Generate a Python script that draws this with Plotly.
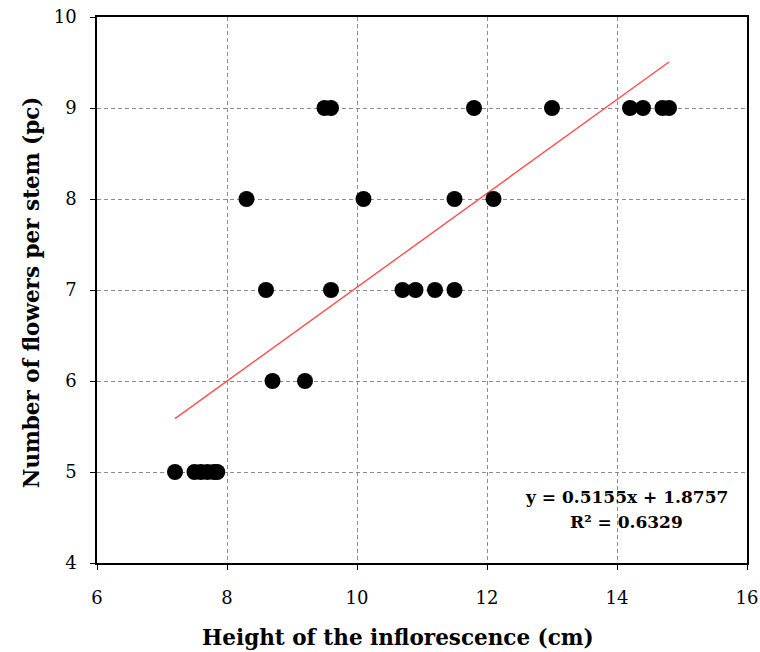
import numpy as np
import plotly.graph_objects as go

height_cm = [7.2, 7.5, 7.6, 7.7, 7.8, 7.85,
             8.7, 9.2,
             8.6, 9.6, 10.7, 10.9, 11.2, 11.5,
             8.3, 10.1, 11.5, 12.1,
             9.5, 9.6, 11.8, 13.0, 14.2, 14.4, 14.7, 14.8]
flowers = [5, 5, 5, 5, 5, 5,
           6, 6,
           7, 7, 7, 7, 7, 7,
           8, 8, 8, 8,
           9, 9, 9, 9, 9, 9, 9, 9]
slope = 0.5155
intercept = 1.8757
r2 = 0.6329

x_ticks = [6, 8, 10, 12, 14, 16]
y_ticks = [4, 5, 6, 7, 8, 9, 10]

FONT = "DejaVu Serif, Liberation Serif, serif"

fig = go.Figure()
tx = np.array([min(height_cm), max(height_cm)])
fig.add_trace(go.Scatter(x=tx, y=slope * tx + intercept, mode="lines",
                         line=dict(color="#ff4d4d", width=1.4),
                         hoverinfo="skip", showlegend=False))
fig.add_trace(go.Scatter(x=height_cm, y=flowers, mode="markers",
                         marker=dict(color="black", size=16),
                         showlegend=False))

fig.add_annotation(x=0.974, y=0.121, xref="paper", yref="paper",
                   text=f"<b>y = {slope}x + {intercept}</b>", showarrow=False,
                   xanchor="right", yanchor="middle",
                   font=dict(family=FONT, size=17, color="black"))
fig.add_annotation(x=0.815, y=0.075, xref="paper", yref="paper",
                   text=f"<b>R² = {r2}</b>", showarrow=False,
                   xanchor="center", yanchor="middle",
                   font=dict(family=FONT, size=17, color="black"))

# axis titles
fig.add_annotation(x=0.463, y=-0.137, xref="paper", yref="paper",
                   text="<b>Height of the inflorescence (cm)</b>", showarrow=False,
                   xanchor="center", yanchor="middle",
                   font=dict(family=FONT, size=21.5, color="black"))
fig.add_annotation(x=-0.1015, y=0.496, xref="paper", yref="paper",
                   text="<b>Number of flowers per stem (pc)</b>", showarrow=False,
                   textangle=-90, xanchor="center", yanchor="middle",
                   font=dict(family=FONT, size=21.5, color="black"))

axis_common = dict(showline=True, linecolor="black", linewidth=1.5, mirror=True,
                   ticks="outside", ticklen=5, tickcolor="black", tickwidth=1.2,
                   showgrid=True, gridcolor="#8c8c8c", gridwidth=1, griddash="4px,3px",
                   zeroline=False, ticklabeloverflow="allow", automargin=False,
                   tickfont=dict(family=FONT, size=18, color="black"))

fig.update_xaxes(range=[6, 16], tickvals=x_ticks, ticklabelstandoff=13, **axis_common)
fig.update_yaxes(range=[4, 10], tickvals=y_ticks, ticklabelstandoff=10, **axis_common)

fig.update_layout(width=760, height=652, margin=dict(l=97, r=13, t=17, b=89),
                  plot_bgcolor="white", paper_bgcolor="white")

fig.write_html("out.html", config={"displayModeBar": False},
               post_script="document.body.style.margin='0';")
